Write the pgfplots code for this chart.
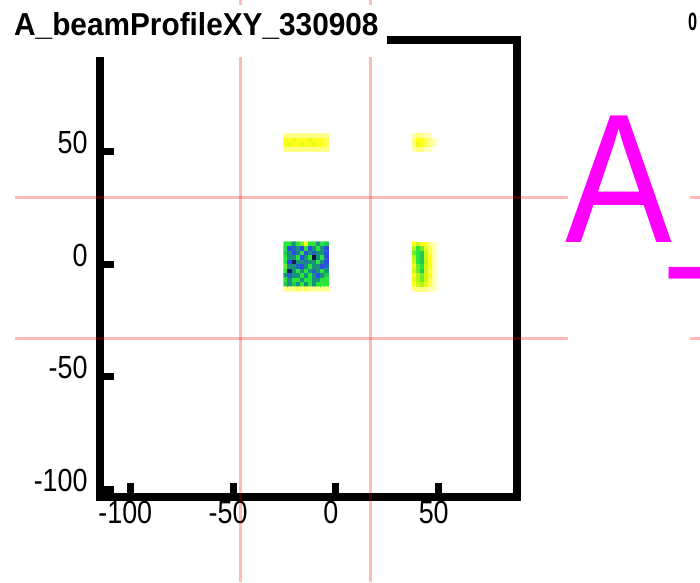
\documentclass[border=0pt]{standalone}
\usepackage{pgfplots}
\pgfplotsset{compat=1.18}
\usepackage{fontspec}
\setmainfont{Liberation Sans}

\definecolor{rootmagenta}{RGB}{255,0,255}

% palette of the 2D histogram: empty bins white, low counts yellow, high counts dark blue
\pgfplotsset{
  colormap={beampal}{
    rgb255(0pt)=(255,255,255)
    rgb255(5pt)=(255,255,185)
    rgb255(20pt)=(255,255,25)
    rgb255(35pt)=(185,245,20)
    rgb255(45pt)=(40,230,60)
    rgb255(60pt)=(25,145,125)
    rgb255(75pt)=(45,75,230)
    rgb255(95pt)=(15,15,60)
    rgb255(100pt)=(10,10,45)
  },
}

\begin{document}
\begin{tikzpicture}[x=1pt,y=1pt]
\useasboundingbox (0,0) rectangle (700,582);
\clip (0,0) rectangle (700,582);

\begin{axis}[
  at={(99.5pt,85pt)}, anchor=south west,
  scale only axis, width=417pt, height=457pt,
  xmin=-115, xmax=87.8, ymin=-103.4, ymax=99.6,
  axis line style={line width=8pt, black},
  tick align=inside, tick pos=left,
  major tick length=14pt,
  tick style={line width=7pt, black},
  xtick={-100,-50,0,50}, ytick={-100,-50,0,50},
  xticklabels={-100,-50,0,50}, yticklabels={-100,-50,0,50},
  xticklabel style={font=\fontsize{32}{32}\selectfont, xscale=0.84,
    inner sep=0pt, anchor=north, yshift=-4pt, xshift=-6pt},
  yticklabel style={font=\fontsize{32}{32}\selectfont, xscale=0.84,
    inner sep=0pt, anchor=east, xshift=-14pt, yshift=9pt},
  colormap name=beampal,
  point meta min=0, point meta max=10,
]
% central spot
\addplot[matrix plot*, mesh/cols=11, point meta=explicit] coordinates {
(-24.5,9)[4.5] (-22.5,9)[4.5] (-20.5,9)[6] (-18.5,9)[4.5] (-16.5,9)[4] (-14.5,9)[2] (-12.5,9)[4.5] (-10.5,9)[4.5] (-8.5,9)[6] (-6.5,9)[4.5] (-4.5,9)[5]
(-24.5,7)[4.5] (-22.5,7)[7.5] (-20.5,7)[7] (-18.5,7)[6] (-16.5,7)[7.5] (-14.5,7)[4.5] (-12.5,7)[7.5] (-10.5,7)[6] (-8.5,7)[4.5] (-6.5,7)[6] (-4.5,7)[7.5]
(-24.5,5)[5] (-22.5,5)[6] (-20.5,5)[7.5] (-18.5,5)[6.5] (-16.5,5)[4.5] (-14.5,5)[7.5] (-12.5,5)[6] (-10.5,5)[7] (-8.5,5)[6] (-6.5,5)[6] (-4.5,5)[7.5]
(-24.5,3)[4.5] (-22.5,3)[6] (-20.5,3)[6] (-18.5,3)[4.5] (-16.5,3)[7.5] (-14.5,3)[6] (-12.5,3)[4.5] (-10.5,3)[9.5] (-8.5,3)[6] (-6.5,3)[4.5] (-4.5,3)[7.5]
(-24.5,1)[4.5] (-22.5,1)[7.5] (-20.5,1)[9] (-18.5,1)[6] (-16.5,1)[6] (-14.5,1)[6.5] (-12.5,1)[6] (-10.5,1)[6] (-8.5,1)[4.5] (-6.5,1)[6] (-4.5,1)[7.5]
(-24.5,-1)[4] (-22.5,-1)[6] (-20.5,-1)[6] (-18.5,-1)[7] (-16.5,-1)[7.5] (-14.5,-1)[6] (-12.5,-1)[4.5] (-10.5,-1)[6] (-8.5,-1)[6] (-6.5,-1)[7.5] (-4.5,-1)[7]
(-24.5,-3)[4.5] (-22.5,-3)[9] (-20.5,-3)[6] (-18.5,-3)[4.5] (-16.5,-3)[6] (-14.5,-3)[4.5] (-12.5,-3)[6] (-10.5,-3)[7] (-8.5,-3)[6] (-6.5,-3)[4.5] (-4.5,-3)[6]
(-24.5,-5)[6] (-22.5,-5)[7] (-20.5,-5)[6] (-18.5,-5)[6] (-16.5,-5)[4.5] (-14.5,-5)[6] (-12.5,-5)[4.5] (-10.5,-5)[6] (-8.5,-5)[7.5] (-6.5,-5)[6] (-4.5,-5)[5]
(-24.5,-7)[4.5] (-22.5,-7)[6] (-20.5,-7)[4.5] (-18.5,-7)[4.5] (-16.5,-7)[6] (-14.5,-7)[4.5] (-12.5,-7)[4.5] (-10.5,-7)[6] (-8.5,-7)[6] (-6.5,-7)[4.5] (-4.5,-7)[4.5]
(-24.5,-9)[5] (-22.5,-9)[6] (-20.5,-9)[5] (-18.5,-9)[6] (-16.5,-9)[4.5] (-14.5,-9)[6] (-12.5,-9)[4.5] (-10.5,-9)[6] (-8.5,-9)[4.5] (-6.5,-9)[4.5] (-4.5,-9)[4.5]
(-24.5,-11)[1] (-22.5,-11)[1] (-20.5,-11)[1] (-18.5,-11)[1.5] (-16.5,-11)[1] (-14.5,-11)[1.5] (-12.5,-11)[1] (-10.5,-11)[1] (-8.5,-11)[1] (-6.5,-11)[1] (-4.5,-11)[1]
};
% right spot
\addplot[matrix plot*, mesh/cols=6, point meta=explicit] coordinates {
(38,9)[2] (40,9)[3] (42,9)[2] (44,9)[2] (46,9)[1] (48,9)[0.5]
(38,7)[3.5] (40,7)[4.5] (42,7)[4] (44,7)[2.5] (46,7)[1.5] (48,7)[0.5]
(38,5)[4] (40,5)[4.5] (42,5)[5] (44,5)[3] (46,5)[1.5] (48,5)[0.5]
(38,3)[3.5] (40,3)[4.5] (42,3)[5] (44,3)[3] (46,3)[2] (48,3)[0.5]
(38,1)[3] (40,1)[4.5] (42,1)[5] (44,1)[3.5] (46,1)[2] (48,1)[0.5]
(38,-1)[2.5] (40,-1)[4] (42,-1)[4.5] (44,-1)[3] (46,-1)[2] (48,-1)[0.5]
(38,-3)[3] (40,-3)[4] (42,-3)[5] (44,-3)[3] (46,-3)[1.5] (48,-3)[0.5]
(38,-5)[2] (40,-5)[3.5] (42,-5)[4] (44,-5)[3] (46,-5)[2] (48,-5)[0.5]
(38,-7)[2.5] (40,-7)[3.5] (42,-7)[4] (44,-7)[3] (46,-7)[1.5] (48,-7)[0.5]
(38,-9)[2] (40,-9)[3] (42,-9)[3.5] (44,-9)[2.5] (46,-9)[1.5] (48,-9)[0.5]
(38,-11)[1] (40,-11)[1] (42,-11)[1] (44,-11)[1] (46,-11)[0.5] (48,-11)[0.5]
};
% upper left spot
\addplot[matrix plot*, mesh/cols=11, point meta=explicit] coordinates {
(-24.5,57)[1] (-22.5,57)[1] (-20.5,57)[1] (-18.5,57)[1] (-16.5,57)[1] (-14.5,57)[1] (-12.5,57)[1] (-10.5,57)[1] (-8.5,57)[1] (-6.5,57)[1] (-4.5,57)[1]
(-24.5,55)[2] (-22.5,55)[2] (-20.5,55)[2.5] (-18.5,55)[2] (-16.5,55)[2] (-14.5,55)[2] (-12.5,55)[2.5] (-10.5,55)[2] (-8.5,55)[2] (-6.5,55)[2] (-4.5,55)[1.5]
(-24.5,53)[2] (-22.5,53)[2.5] (-20.5,53)[2] (-18.5,53)[2] (-16.5,53)[2.5] (-14.5,53)[2] (-12.5,53)[2] (-10.5,53)[2.5] (-8.5,53)[2] (-6.5,53)[2] (-4.5,53)[1.5]
(-24.5,51)[1] (-22.5,51)[1] (-20.5,51)[1] (-18.5,51)[1] (-16.5,51)[1] (-14.5,51)[1] (-12.5,51)[1] (-10.5,51)[1] (-8.5,51)[1] (-6.5,51)[1] (-4.5,51)[1]
};
% upper right spot
\addplot[matrix plot*, mesh/cols=6, point meta=explicit] coordinates {
(38,57)[0.5] (40,57)[1] (42,57)[1] (44,57)[0.5] (46,57)[0.5] (48,57)[0]
(38,55)[1] (40,55)[2] (42,55)[2] (44,55)[1.5] (46,55)[1] (48,55)[0.5]
(38,53)[1] (40,53)[2.5] (42,53)[2] (44,53)[1.5] (46,53)[1] (48,53)[0.5]
(38,51)[0.5] (40,51)[1] (42,51)[1] (44,51)[0.5] (46,51)[0.5] (48,51)[0]
};
\end{axis}

% crosshair lines across the canvas
\begin{scope}[red, opacity=0.27, line width=3pt]
  \draw (240,0) -- (240,582);
  \draw (370,0) -- (370,582);
  \draw (15,385) -- (700,385);
  \draw (15,244) -- (700,244);
\end{scope}

% title box
\fill[white] (0,525) rectangle (387,577);
\node[anchor=base west, inner sep=0pt, xscale=0.94,
      font=\fontsize{31.7}{31.7}\selectfont\bfseries] at (14,546) {A\_beamProfileXY\_330908};

% large label at the right
\fill[white] (568,222) rectangle (690,482);
\node[anchor=base west, inner sep=0pt, xscale=0.87, text=rootmagenta,
      font=\fontsize{184}{184}\selectfont] at (565,340) {A\_beamProfileXY};

% small bold zero in the corner
\node[anchor=base west, inner sep=0pt, xscale=0.65,
      font=\fontsize{25}{25}\selectfont\bfseries] at (688,551) {0};
\end{tikzpicture}
\end{document}
